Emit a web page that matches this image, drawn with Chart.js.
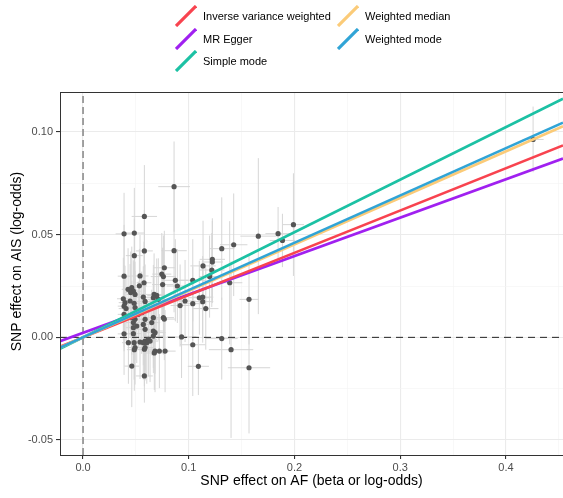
<!DOCTYPE html>
<html>
<head>
<meta charset="utf-8">
<script src="https://cdn.jsdelivr.net/npm/chart.js@4.4.0/dist/chart.umd.min.js"></script>
<style>
body { margin: 0; background: #fff; }
#wrap { position: relative; width: 563px; height: 498px; font-family: "Liberation Sans", Arial, sans-serif; }
#chart { position: absolute; left: 0; top: 0; }
.item { position: absolute; height: 22px; display: flex; align-items: center; font-size: 11px; color: #000; white-space: nowrap; }
.item svg { margin-right: 6px; }
</style>
</head>
<body>
<div id="wrap">
  <canvas id="chart" width="563" height="498"></canvas>
  <div id="legend"></div>
</div>
<script>
// MR methods
const methods = ['Inverse variance weighted', 'MR Egger', 'Simple mode', 'Weighted median', 'Weighted mode']
const methodColors = ['#F8434F', '#A020F0', '#1CC1A4', '#FBCB78', '#30A4D6']
const methodSlopes = [0.206, 0.187, 0.256, 0.2265, 0.2303]
const methodIntercepts = [0, 0.0022, 0, 0, 0]

// SNP effects
const snpX = [0.0861, 0.0580, 0.0388, 0.0485, 0.0580, 0.0861, 0.0485, 0.0388, 0.0539, 0.0769,
  0.0745, 0.0760, 0.0577, 0.0533, 0.0461, 0.0476, 0.0451, 0.0492, 0.0381, 0.0397,
  0.0388, 0.0407, 0.0445, 0.0483, 0.0570, 0.0587, 0.0672, 0.0697, 0.0665, 0.0712,
  0.0492, 0.0555, 0.0523, 0.0461, 0.0492, 0.0476, 0.0587, 0.0570, 0.0665, 0.0650,
  0.0760, 0.0476, 0.0587, 0.0665, 0.0681, 0.0388, 0.0476, 0.0665, 0.0483, 0.0429,
  0.0587, 0.0603, 0.0570, 0.0634, 0.0492, 0.0587, 0.0681, 0.0722, 0.0776, 0.0461,
  0.0580, 0.0539, 0.0873, 0.0892, 0.1038, 0.1135, 0.1223, 0.1223, 0.1218, 0.1197,
  0.1312, 0.1425, 0.1658, 0.1845, 0.1886, 0.1990, 0.1387, 0.0965, 0.0918, 0.1038,
  0.1100, 0.1132, 0.1132, 0.1161, 0.1570, 0.0932, 0.1038, 0.1312, 0.1400, 0.1570,
  0.1091, 0.4257, 0.0388, 0.0426, 0.0508, 0.0618, 0.0769, 0.0753, 0.0674, 0.0485,
  0.0580]
const snpY = [0.0734, 0.0589, 0.0504, 0.0508, 0.0421, 0.0422, 0.0398, 0.0298, 0.0299, 0.0339,
  0.0308, 0.0296, 0.0266, 0.0251, 0.0242, 0.0225, 0.0218, 0.0209, 0.0188, 0.0169,
  0.0152, 0.0140, 0.0177, 0.0166, 0.0196, 0.0175, 0.0209, 0.0204, 0.0193, 0.0185,
  0.0145, 0.0120, 0.0112, 0.0096, 0.0088, 0.0072, 0.0088, 0.0063, 0.0096, 0.0072,
  0.0096, 0.0047, 0.0039, 0.0031, 0.0023, 0.0017, 0.0018, 0.0006, -0.0026, -0.0026,
  -0.0018, -0.0026, -0.0026, -0.0018, -0.0050, -0.0050, -0.0067, -0.0067, -0.0067, -0.0140,
  -0.0188, -0.0023, 0.0278, 0.0250, 0.0278, 0.0348, 0.0380, 0.0367, 0.0328, 0.0296,
  0.0432, 0.0451, 0.0493, 0.0505, 0.0472, 0.0549, 0.0266, 0.0177, 0.0155, 0.0164,
  0.0193, 0.0196, 0.0174, 0.0140, 0.0185, 0.0002, -0.0036, -0.0006, -0.0060, -0.0148,
  -0.0141, 0.0964, 0.0112, 0.0234, 0.0055, -0.0010, 0.0089, 0.0257, -0.0076, -0.0060,
  -0.0058]
const snpSeX = [0.015, 0.012, 0.008, 0.010, 0.008, 0.012, 0.008, 0.006, 0.008, 0.010,
  0.009, 0.012, 0.007, 0.007, 0.006, 0.007, 0.006, 0.008, 0.006, 0.006,
  0.006, 0.007, 0.006, 0.008, 0.008, 0.008, 0.010, 0.009, 0.008, 0.010,
  0.007, 0.008, 0.007, 0.006, 0.008, 0.007, 0.008, 0.008, 0.009, 0.008,
  0.010, 0.007, 0.008, 0.009, 0.010, 0.006, 0.007, 0.009, 0.007, 0.006,
  0.008, 0.008, 0.007, 0.008, 0.007, 0.008, 0.009, 0.009, 0.010, 0.007,
  0.008, 0.007, 0.012, 0.010, 0.012, 0.012, 0.012, 0.010, 0.012, 0.010,
  0.012, 0.013, 0.017, 0.012, 0.012, 0.010, 0.012, 0.010, 0.009, 0.010,
  0.010, 0.010, 0.010, 0.012, 0.009, 0.014, 0.012, 0.015, 0.021, 0.020,
  0.010, 0.010, 0.006, 0.006, 0.007, 0.008, 0.010, 0.010, 0.009, 0.007,
  0.008]
const snpSeY = [0.022, 0.025, 0.020, 0.022, 0.020, 0.030, 0.018, 0.025, 0.020, 0.018,
  0.020, 0.020, 0.020, 0.018, 0.020, 0.015, 0.020, 0.016, 0.020, 0.018,
  0.020, 0.016, 0.018, 0.020, 0.015, 0.018, 0.020, 0.018, 0.016, 0.020,
  0.018, 0.020, 0.016, 0.018, 0.020, 0.016, 0.018, 0.020, 0.020, 0.016,
  0.018, 0.020, 0.020, 0.018, 0.020, 0.020, 0.016, 0.018, 0.018, 0.020,
  0.016, 0.020, 0.018, 0.020, 0.018, 0.016, 0.020, 0.018, 0.020, 0.020,
  0.013, 0.018, 0.020, 0.018, 0.020, 0.022, 0.020, 0.020, 0.018, 0.020,
  0.025, 0.025, 0.038, 0.013, 0.013, 0.025, 0.030, 0.020, 0.020, 0.018,
  0.018, 0.020, 0.020, 0.020, 0.022, 0.020, 0.025, 0.020, 0.043, 0.032,
  0.014, 0.016, 0.018, 0.020, 0.018, 0.018, 0.020, 0.018, 0.018, 0.020,
  0.018]

// axes
const xMin = -0.0218, xMax = 0.454
const yMin = -0.0573, yMax = 0.1195
const xTicks = [0, 0.1, 0.2, 0.3, 0.4]
const xTickLabels = ['0.0', '0.1', '0.2', '0.3', '0.4']
const xMinor = [0.05, 0.15, 0.25, 0.35, 0.45]
const yTicks = [-0.05, 0, 0.05, 0.1]
const yTickLabels = ['-0.05', '0.00', '0.05', '0.10']
const yMinor = [-0.025, 0.025, 0.075]
const yTitle = 'SNP effect on AIS (log-odds)'

const near = (a, b) => Math.abs(a - b) < 1e-9
const isMajor = (list, v) => list.some(t => near(t, v))

// error bars as broken line datasets
const hBars = []
const vBars = []
snpX.forEach((x, i) => {
    hBars.push({ x: x - snpSeX[i], y: snpY[i] }, { x: x + snpSeX[i], y: snpY[i] }, { x: null, y: null })
    vBars.push({ x: x, y: snpY[i] - snpSeY[i] }, { x: x, y: snpY[i] + snpSeY[i] }, { x: null, y: null })
})

const points = snpX.map((x, i) => ({ x: x, y: snpY[i] }))

// regression lines, top-most first (Weighted mode drawn last in ggplot)
const lineSets = [4, 3, 2, 0, 1].map(m => ({
    type: 'line',
    label: methods[m],
    data: [
        { x: xMin, y: methodIntercepts[m] + methodSlopes[m] * xMin },
        { x: xMax, y: methodIntercepts[m] + methodSlopes[m] * xMax },
    ],
    borderColor: methodColors[m],
    borderWidth: 2.6,
    pointRadius: 0,
    clip: 0,
}))

const fontFamily = '"Liberation Sans", Arial, sans-serif'
const tickFont = { family: fontFamily, size: 11 }
const titleFont = { family: fontFamily, size: 14 }

// panel border and the y title (ggplot puts it a little above the panel centre here)
const panelExtras = {
    id: 'panelExtras',
    afterDraw(chart) {
        const a = chart.chartArea
        const ctx = chart.ctx
        ctx.save()
        ctx.strokeStyle = '#333333'
        ctx.lineWidth = 1
        ctx.strokeRect(a.left + 0.5, a.top + 0.5, a.right - a.left, a.bottom - a.top)
        ctx.translate(17, (a.top + a.bottom) / 2 - 12)
        ctx.rotate(-Math.PI / 2)
        ctx.font = '14px ' + fontFamily
        ctx.fillStyle = '#000'
        ctx.textAlign = 'center'
        ctx.textBaseline = 'middle'
        ctx.fillText(yTitle, 0, 0)
        ctx.restore()
    }
}

new Chart(document.getElementById('chart'), {
    type: 'scatter',
    data: {
        datasets: [
            ...lineSets,
            {
                label: 'points',
                data: points,
                pointRadius: 2.6,
                pointBackgroundColor: '#555555',
                pointBorderWidth: 0,
            },
            {
                type: 'line', label: 'hline',
                data: [{ x: xMin, y: 0 }, { x: xMax, y: 0 }],
                borderColor: '#222222', borderWidth: 1, borderDash: [7, 5],
                pointRadius: 0, clip: 0,
            },
            {
                type: 'line', label: 'vline',
                data: [{ x: 0, y: yMin }, { x: 0, y: yMax }],
                borderColor: '#8C8C8C', borderWidth: 1.6, borderDash: [7, 4],
                pointRadius: 0, clip: 0,
            },
            {
                type: 'line', label: 'vbars',
                data: vBars,
                borderColor: '#D6D6D6', borderWidth: 1,
                pointRadius: 0, spanGaps: false, clip: 0,
            },
            {
                type: 'line', label: 'hbars',
                data: hBars,
                borderColor: '#D6D6D6', borderWidth: 1,
                pointRadius: 0, spanGaps: false, clip: 0,
            },
        ]
    },
    options: {
        responsive: false,
        animation: false,
        devicePixelRatio: 1,
        layout: { autoPadding: false, padding: { top: 92, left: 0, right: 0, bottom: 0 } },
        plugins: {
            legend: { display: false },
            tooltip: { enabled: false },
        },
        scales: {
            x: {
                type: 'linear',
                min: xMin,
                max: xMax,
                afterBuildTicks: s => { s.ticks = [...xTicks, ...xMinor].sort((a, b) => a - b).map(v => ({ value: v })) },
                afterFit: s => { s.height = 43 },
                ticks: {
                    autoSkip: false, maxRotation: 0, padding: 2,
                    color: '#4D4D4D', font: tickFont,
                    callback: v => isMajor(xTicks, v) ? xTickLabels[xTicks.findIndex(t => near(t, v))] : '',
                },
                grid: {
                    color: c => isMajor(xTicks, c.tick.value) ? '#EBEBEB' : '#F4F4F4',
                    lineWidth: c => isMajor(xTicks, c.tick.value) ? 1.1 : 0.6,
                    tickColor: c => isMajor(xTicks, c.tick.value) ? '#333333' : 'rgba(0,0,0,0)',
                    tickLength: 4,
                },
                border: { display: true, color: '#333333', width: 1 },
                title: { display: true, text: 'SNP effect on AF (beta or log-odds)', color: '#000', font: titleFont, padding: { top: 0, bottom: 8 } },
            },
            y: {
                type: 'linear',
                min: yMin,
                max: yMax,
                afterBuildTicks: s => { s.ticks = [...yTicks, ...yMinor].sort((a, b) => a - b).map(v => ({ value: v })) },
                afterFit: s => { s.width = 60 },
                ticks: {
                    autoSkip: false, padding: 3,
                    color: '#4D4D4D', font: tickFont,
                    callback: v => isMajor(yTicks, v) ? yTickLabels[yTicks.findIndex(t => near(t, v))] : '',
                },
                grid: {
                    color: c => isMajor(yTicks, c.tick.value) ? '#EBEBEB' : '#F4F4F4',
                    lineWidth: c => isMajor(yTicks, c.tick.value) ? 1.1 : 0.6,
                    tickColor: c => isMajor(yTicks, c.tick.value) ? '#333333' : 'rgba(0,0,0,0)',
                    tickLength: 4,
                },
                border: { display: true, color: '#333333', width: 1 },
                title: { display: false },
            },
        },
    },
    plugins: [panelExtras],
})

// legend laid out like ggplot: two columns, filled by column
const legend = document.getElementById('legend')
const legendPos = [[175, 5], [175, 28], [175, 50], [337, 5], [337, 28]]
methods.forEach((name, i) => {
    legend.innerHTML += `
    <div class="item" style="left:${legendPos[i][0]}px;top:${legendPos[i][1]}px">
        <svg width="22" height="22"><line x1="1" y1="21" x2="21" y2="1" stroke="${methodColors[i]}" stroke-width="3.2"/></svg>
        <span>${name}</span>
    </div>`
})
</script>
</body>
</html>
